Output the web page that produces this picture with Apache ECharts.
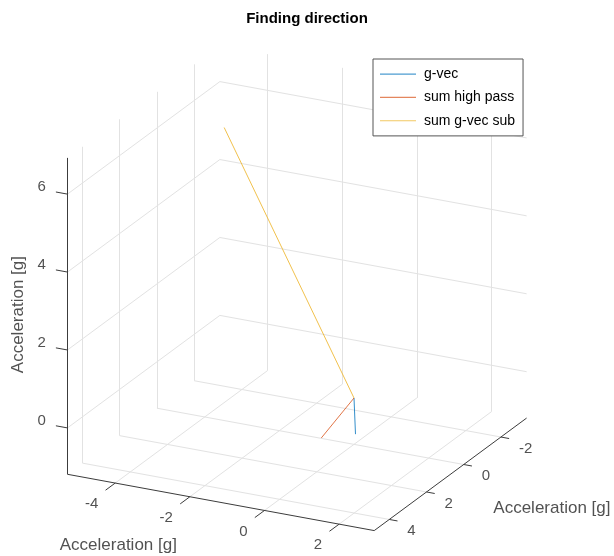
<!DOCTYPE html>
<html>
<head>
<meta charset="utf-8">
<script src="https://cdn.jsdelivr.net/npm/echarts@6/dist/echarts.min.js"></script>
<style>
  html, body { margin: 0; padding: 0; background: #ffffff; }
  #chart { width: 614px; height: 556px; }
</style>
</head>
<body>
<div id="chart"></div>
<script>
// Limits of the 3-D box, acceleration in g
const xLimits = [-5.28, 2.94];
const yLimits = [-3.38, 4.81];
const zLimits = [-1.19, 6.93];

// Tick values on each axis
const xTicks = [-4, -2, 0, 2];
const yTicks = [-2, 0, 2, 4];
const zTicks = [0, 2, 4, 6];

// Vectors (x, y, z); each one is drawn from the origin
const origin = [0, 0, 0];
const gVec = [0.03, -0.02, -0.93];
const sumHighPass = [0.46, 2.68, 0.0];
const sumGVecSub = [-2.98, 1.0, 6.77];

const seriesNames = ['g-vec', 'sum high pass', 'sum g-vec sub'];
const seriesVectors = [gVec, sumHighPass, sumGVecSub];
const seriesColors = ['#0072BD', '#D95319', '#EDB120'];

const axisTitle = 'Acceleration [g]';
const chartTitle = 'Finding direction';

// ---- orthographic camera -------------------------------------------------
const AZ = 26.5 * Math.PI / 180;
const EL = 21.6 * Math.PI / 180;
const Z_ASPECT = 1.005;
function project(p) {
  const x = p[0], y = p[1], z = p[2];
  const u = x * Math.cos(AZ) - y * Math.sin(AZ);
  const v = -Math.sin(EL) * (x * Math.sin(AZ) + y * Math.cos(AZ)) + z * Math.cos(EL) * Z_ASPECT;
  return [u, v];
}

// 2-D plane that receives the projected scene
const W = 614, H = 556;
const PX_PER_UNIT = 41.7;
const ORIGIN_PX = [354, 398];
const uRange = [-ORIGIN_PX[0] / PX_PER_UNIT, (W - ORIGIN_PX[0]) / PX_PER_UNIT];
const vRange = [-(H - ORIGIN_PX[1]) / PX_PER_UNIT, ORIGIN_PX[1] / PX_PER_UNIT];

const [x0, x1] = xLimits, [y0, y1] = yLimits, [z0, z1] = zLimits;
const seg = (a, b) => ({ coords: [project(a), project(b)] });

// Grid lines on the three back planes
const gridSegs = [];
xTicks.forEach(t => {
  gridSegs.push(seg([t, y0, z0], [t, y1, z0]));   // floor
  gridSegs.push(seg([t, y0, z0], [t, y0, z1]));   // back wall
});
yTicks.forEach(t => {
  gridSegs.push(seg([x0, t, z0], [x1, t, z0]));   // floor
  gridSegs.push(seg([x0, t, z0], [x0, t, z1]));   // side wall
});
zTicks.forEach(t => {
  gridSegs.push(seg([x0, y0, t], [x1, y0, t]));   // back wall
  gridSegs.push(seg([x0, y0, t], [x0, y1, t]));   // side wall
});

// Axis lines
const axisSegs = [
  seg([x0, y1, z0], [x1, y1, z0]),
  seg([x1, y1, z0], [x1, y0, z0]),
  seg([x0, y1, z0], [x0, y1, z1])
];

// Tick marks
const tickSegs = [];
xTicks.forEach(t => tickSegs.push(seg([t, y1, z0], [t, y1 + 0.52, z0])));
yTicks.forEach(t => tickSegs.push(seg([x1, t, z0], [x1 + 0.22, t, z0])));
zTicks.forEach(t => tickSegs.push(seg([x0, y1, t], [x0 - 0.31, y1, t])));

const FONT = '"Liberation Sans", Arial, Helvetica, sans-serif';
const TEXT = '#262626';

function labelSeries(points, label) {
  return {
    type: 'scatter', symbolSize: 0, silent: true, z: 5,
    data: points,
    label: Object.assign({
      show: true, position: [0, 0],
      formatter: p => p.name,
      fontFamily: FONT, fontSize: 15, color: TEXT
    }, label)
  };
}

const xTickLabels = xTicks.map(t => ({ name: String(t), value: project([t, y1, z0]) }));
const yTickLabels = yTicks.map(t => ({ name: String(t), value: project([x1, t, z0]) }));
const zTickLabels = zTicks.map(t => ({ name: String(t), value: project([x0, y1, t]) }));

const xMid = (x0 + x1) / 2, yMid = (y0 + y1) / 2, zMid = (z0 + z1) / 2;

const dataSeries = seriesNames.map((name, i) => ({
  name: name,
  type: 'line',
  data: [project(origin), project(seriesVectors[i])],
  symbol: 'none',
  z: 4,
  lineStyle: { color: seriesColors[i], width: 1, opacity: 0.8 },
  itemStyle: { color: seriesColors[i] }
}));

const option = {
  animation: false,
  backgroundColor: '#ffffff',
  title: {
    text: chartTitle, left: 'center', top: 11, padding: 0,
    textStyle: { fontFamily: FONT, fontSize: 15, fontWeight: 'bold', color: '#000000' }
  },
  legend: {
    data: seriesNames.map(n => ({ name: n, icon: 'rect' })),
    orient: 'vertical',
    left: 373, top: 59,
    padding: [7, 8, 7, 7],
    itemWidth: 36, itemHeight: 1.2, itemGap: 7,
    itemStyle: { opacity: 0.7 },
    borderColor: '#555555', borderWidth: 1,
    backgroundColor: '#ffffff',
    textStyle: { fontFamily: FONT, fontSize: 14, color: '#000000', lineHeight: 16.3, padding: [0, 0, 0, 3] }
  },
  grid: { left: 0, top: 0, width: W, height: H },
  xAxis: { type: 'value', min: uRange[0], max: uRange[1], show: false },
  yAxis: { type: 'value', min: vRange[0], max: vRange[1], show: false },
  series: [
    {
      type: 'lines', coordinateSystem: 'cartesian2d', silent: true, z: 1,
      data: gridSegs, lineStyle: { color: '#e2e2e2', width: 1, opacity: 1 }
    },
    {
      type: 'lines', coordinateSystem: 'cartesian2d', silent: true, z: 3,
      data: axisSegs.concat(tickSegs), lineStyle: { color: '#3c3c3c', width: 1, opacity: 1 }
    },
    ...dataSeries,
    labelSeries(xTickLabels, { align: 'right', verticalAlign: 'middle', offset: [-17, 21] }),
    labelSeries(yTickLabels, { align: 'left', verticalAlign: 'middle', offset: [18, 11.5] }),
    labelSeries(zTickLabels, { align: 'right', verticalAlign: 'middle', offset: [-21.5, -7] }),
    labelSeries([{ name: axisTitle, value: project([xMid, y1, z0]) }],
      { align: 'center', verticalAlign: 'middle', fontSize: 17, offset: [-102.5, 43] }),
    labelSeries([{ name: axisTitle, value: project([x1, yMid, z0]) }],
      { align: 'center', verticalAlign: 'middle', fontSize: 17, offset: [101.5, 33.5] }),
    labelSeries([{ name: axisTitle, value: project([x0, y1, zMid]) }],
      { align: 'center', verticalAlign: 'middle', fontSize: 17, rotate: 90, offset: [1.5, -49] })
  ]
};

const chart = echarts.init(document.getElementById('chart'), null, { renderer: 'canvas' });
chart.setOption(option);
</script>
</body>
</html>
